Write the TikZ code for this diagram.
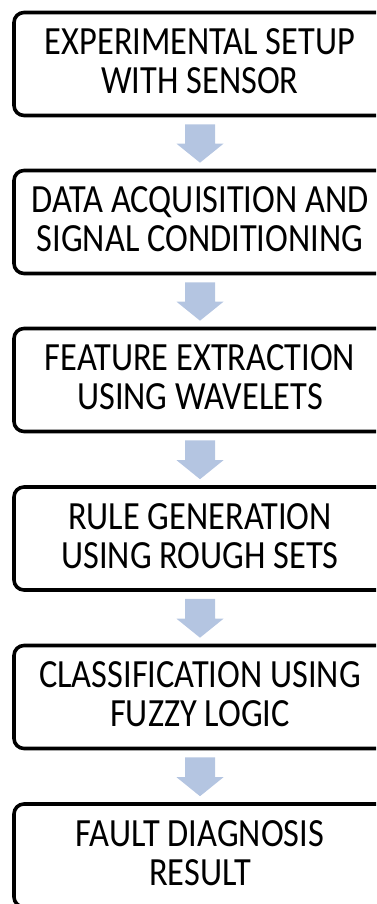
\documentclass[tikz,border=0pt]{standalone}
\usepackage{fontspec}
\setmainfont{Carlito}[FakeStretch=0.86]
\usetikzlibrary{calc}
\definecolor{arrowblue}{HTML}{B4C5E1}
\tikzset{
  stepbox/.style={draw=black, line width=3.6pt, rounded corners=10pt,
    minimum width=372pt, minimum height=103pt, inner sep=0pt,
    align=center, font=\fontsize{40}{39}\selectfont, fill=white,
    execute at end node={\rule[-5pt]{0pt}{5pt}}},
}
\newcommand{\blockarr}[2]{%
  \path[fill=arrowblue] let \p1=(#1.south), \p2=(#2.north) in
    (\x1-15pt,\y1-7pt) -- (\x1+15pt,\y1-7pt) --
    (\x1+15pt,\y2+6pt+19pt) -- (\x1+23.5pt,\y2+6pt+19pt) --
    (\x1,\y2+6pt) -- (\x1-23.5pt,\y2+6pt+19pt) --
    (\x1-15pt,\y2+6pt+19pt) -- cycle;}
\begin{document}
\begin{tikzpicture}[x=1pt,y=1pt]
\useasboundingbox (0,0) rectangle (376,904);
\clip (0,0) rectangle (376,904);
\node[stepbox] (b1) at (200,{904-64}) {EXPERIMENTAL SETUP\\WITH SENSOR};
\node[stepbox] (b2) at (200,{904-222}) {DATA ACQUISITION AND\\SIGNAL CONDITIONING};
\node[stepbox] (b3) at (200,{904-380}) {FEATURE EXTRACTION\\USING WAVELETS};
\node[stepbox] (b4) at (200,{904-538.5}) {RULE GENERATION\\USING ROUGH SETS};
\node[stepbox] (b5) at (200,{904-697}) {CLASSIFICATION USING\\FUZZY LOGIC};
\node[stepbox] (b6) at (200,{904-855.5}) {FAULT DIAGNOSIS\\RESULT};
\blockarr{b1}{b2}
\blockarr{b2}{b3}
\blockarr{b3}{b4}
\blockarr{b4}{b5}
\blockarr{b5}{b6}
\end{tikzpicture}
\end{document}
